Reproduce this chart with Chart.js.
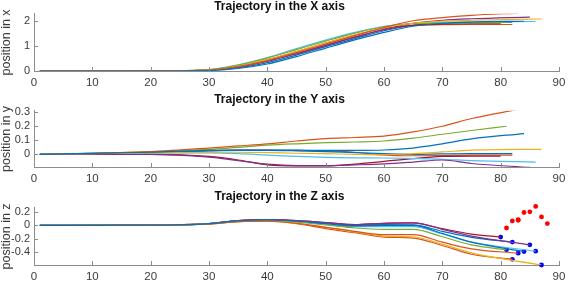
<!DOCTYPE html>
<html lang="en">
<head>
<meta charset="UTF-8">
<title>Trajectory</title>
<script src="https://cdn.jsdelivr.net/npm/chart.js"></script>
<style>
  body { margin: 0; background: #fff; }
  #wrap { position: relative; width: 572px; height: 290px; }
  canvas { position: absolute; left: 0; }
</style>
</head>
<body>
<div id="wrap">
  <canvas id="chartX" width="572" height="93" style="top:0"></canvas>
  <canvas id="chartY" width="572" height="97" style="top:93px"></canvas>
  <canvas id="chartZ" width="572" height="100" style="top:190px"></canvas>
</div>

<script>
// MATLAB default colour order, one per trajectory
const seriesColors = ['#0072BD', '#D95319', '#EDB120', '#7E2F8E', '#77AC30', '#4DBEEE', '#A2142F', '#0072BD', '#D95319'];
// last sample of each trajectory
const endTimes = [84, 83, 87, 85, 81, 86, 80, 82, 82];
// sample times shared by all trajectories (the end time is appended per series)
const sampleTimes = [1, 20, 30, 35, 40, 45, 50, 55, 60, 65, 70, 75];

const xTickValues = [0, 10, 20, 30, 40, 50, 60, 70, 80, 90];
const yTicksX = [0, 1, 2];
const yTicksY = [0, 0.1, 0.2, 0.3];
const yTicksZ = [-0.4, -0.2, 0, 0.2];

// position in x, one row per trajectory
const posX = [
  [0, 0, 0.02, 0.1, 0.28, 0.58, 0.92, 1.25, 1.55, 1.8, 1.92, 1.97, 2.0],
  [0, 0.005, 0.04, 0.18, 0.42, 0.74, 1.08, 1.42, 1.75, 2.02, 2.15, 2.24, 2.33],
  [0, 0.005, 0.05, 0.2, 0.46, 0.78, 1.12, 1.45, 1.74, 1.92, 2.0, 2.04, 2.09],
  [0, 0.005, 0.04, 0.17, 0.4, 0.7, 1.03, 1.36, 1.68, 1.92, 2.04, 2.1, 2.17],
  [0, 0.005, 0.06, 0.24, 0.52, 0.86, 1.2, 1.52, 1.78, 1.9, 1.93, 1.94, 1.95],
  [0, 0.005, 0.06, 0.25, 0.54, 0.9, 1.24, 1.55, 1.8, 1.92, 1.96, 1.98, 1.99],
  [0, 0.005, 0.04, 0.17, 0.4, 0.7, 1.03, 1.36, 1.66, 1.84, 1.88, 1.9, 1.9],
  [0, 0.003, 0.03, 0.13, 0.34, 0.64, 0.98, 1.3, 1.62, 1.84, 1.92, 1.95, 1.96],
  [0, 0.005, 0.05, 0.2, 0.46, 0.78, 1.12, 1.44, 1.72, 1.84, 1.86, 1.87, 1.87]
];

// position in y
const posY = [
  [0, 0.015, 0.028, 0.03, 0.03, 0.03, 0.028, 0.028, 0.031, 0.045, 0.075, 0.11, 0.148],
  [0, 0.02, 0.045, 0.06, 0.075, 0.095, 0.112, 0.12, 0.13, 0.16, 0.2, 0.255, 0.32],
  [0, 0.01, 0.015, 0.015, 0.012, 0.008, 0.005, 0, -0.003, 0.005, 0.017, 0.03, 0.036],
  [0, 0, -0.02, -0.045, -0.07, -0.08, -0.08, -0.075, -0.068, -0.055, -0.04, -0.065, -0.093],
  [0, 0.018, 0.035, 0.05, 0.065, 0.075, 0.083, 0.088, 0.095, 0.115, 0.143, 0.17, 0.2],
  [0, 0.008, 0.01, 0.005, -0.005, -0.015, -0.022, -0.025, -0.026, -0.03, -0.035, -0.045, -0.055],
  [0, 0, -0.015, -0.04, -0.075, -0.083, -0.083, -0.07, -0.05, -0.03, -0.015, -0.012, -0.012],
  [0, 0.012, 0.025, 0.028, 0.028, 0.025, 0.02, 0.012, 0.005, 0, 0.003, 0.005, 0.005],
  [0, 0.012, 0.025, 0.03, 0.03, 0.028, 0.025, 0.015, -0.005, -0.01, -0.008, -0.005, -0.005]
];

// position in z
const posZ = [
  [0, 0.002, 0.025, 0.068, 0.08, 0.06, 0.025, -0.01, 0, 0, -0.12, -0.25, -0.39],
  [0, 0.002, 0.02, 0.055, 0.06, 0.03, -0.03, -0.09, -0.14, -0.14, -0.25, -0.35, -0.415],
  [0, 0.002, 0.02, 0.055, 0.065, 0.03, -0.03, -0.1, -0.16, -0.17, -0.28, -0.41, -0.59],
  [0, 0.002, 0.025, 0.07, 0.085, 0.07, 0.04, 0.01, 0.03, 0.035, -0.06, -0.16, -0.29],
  [0, 0.002, 0.022, 0.06, 0.07, 0.045, 0.005, -0.04, -0.06, -0.06, -0.17, -0.29, -0.365],
  [0, 0.002, 0.025, 0.065, 0.078, 0.055, 0.02, -0.02, -0.02, -0.02, -0.13, -0.25, -0.385],
  [0, 0.002, 0.025, 0.07, 0.085, 0.07, 0.04, 0.01, 0.03, 0.035, -0.05, -0.13, -0.175],
  [0, 0.002, 0.025, 0.068, 0.08, 0.06, 0.03, 0, 0.01, 0.005, -0.09, -0.18, -0.25],
  [0, 0.002, 0.02, 0.055, 0.06, 0.025, -0.05, -0.11, -0.175, -0.19, -0.3, -0.43, -0.505]
];

// red markers after the trajectories end
const redTimes = [81, 82, 83, 83, 84, 85, 86, 87, 88];
const redValues = [-0.04, 0.065, 0.085, 0.075, 0.19, 0.2, 0.28, 0.125, 0.025];

const axisColor = '#8c8c8c';
const textColor = '#3a3a3a';
const fontFamily = '"Liberation Sans", Arial, sans-serif';

// MATLAB style ticks pointing into the axes
const innerTicks = {
  id: 'innerTicks',
  afterDraw(chart) {
    const {ctx, chartArea: a, scales: {x, y}} = chart;
    ctx.save();
    ctx.strokeStyle = axisColor;
    ctx.lineWidth = 1;
    ctx.beginPath();
    x.ticks.forEach(t => {
      const px = Math.round(x.getPixelForValue(t.value)) + 0.5;
      ctx.moveTo(px, a.bottom);
      ctx.lineTo(px, a.bottom - 4);
    });
    y.ticks.forEach(t => {
      const py = Math.round(y.getPixelForValue(t.value)) + 0.5;
      ctx.moveTo(a.left, py);
      ctx.lineTo(a.left + 4, py);
    });
    ctx.stroke();
    ctx.restore();
  }
};

function trajectorySets(values) {
  return values.map((row, i) => {
    const times = sampleTimes.concat([endTimes[i]]);
    return {
      data: row.map((v, j) => ({x: times[j], y: v})),
      borderColor: seriesColors[i],
      borderWidth: 1.2,
      pointRadius: 0,
      cubicInterpolationMode: 'monotone',
      fill: false
    };
  });
}

function drawPanel(id, cfg) {
  return new Chart(document.getElementById(id), {
    type: 'line',
    data: {datasets: cfg.datasets},
    options: {
      responsive: false,
      animation: false,
      layout: {padding: {left: 0, right: 13, top: 0, bottom: 0}},
      plugins: {
        legend: {display: false},
        tooltip: {enabled: false},
        title: {
          display: true,
          text: cfg.title,
          color: '#111',
          font: {family: fontFamily, size: 12, weight: 'bold', lineHeight: 1.15},
          padding: cfg.titlePad
        }
      },
      scales: {
        x: {
          type: 'linear',
          min: 0,
          max: 90,
          grid: {display: false, drawTicks: false},
          border: {display: true, color: axisColor, width: 1},
          afterBuildTicks: s => { s.ticks = xTickValues.map(v => ({value: v})); },
          afterFit: s => { s.height = cfg.xHeight; },
          ticks: {
            color: textColor,
            padding: 5,
            maxRotation: 0,
            font: {family: fontFamily, size: 11.5},
            callback: v => String(v)
          }
        },
        y: {
          min: cfg.yMin,
          max: cfg.yMax,
          grid: {display: false, drawTicks: false},
          border: {display: true, color: axisColor, width: 1},
          afterBuildTicks: s => { s.ticks = cfg.yTicks.map(v => ({value: v})); },
          afterFit: s => { s.width = 34; },
          ticks: {
            color: textColor,
            padding: 4,
            font: {family: fontFamily, size: 11},
            callback: v => String(v)
          },
          title: {
            display: true,
            text: cfg.yTitle,
            color: textColor,
            font: {family: fontFamily, size: 12.5, lineHeight: 1.0},
            padding: {top: 0, bottom: 0}
          }
        }
      }
    },
    plugins: [innerTicks]
  });
}

window.onload = function () {
  drawPanel('chartX', {
    title: 'Trajectory in the X axis',
    titlePad: {top: 0, bottom: 0},
    yTitle: 'position in x',
    yMin: 0, yMax: 2.3, yTicks: yTicksX,
    xHeight: 22,
    datasets: trajectorySets(posX)
  });

  drawPanel('chartY', {
    title: 'Trajectory in the Y axis',
    titlePad: {top: 0, bottom: 4},
    yTitle: 'position in y',
    yMin: -0.09, yMax: 0.31, yTicks: yTicksY,
    xHeight: 23,
    datasets: trajectorySets(posY)
  });

  const zSets = trajectorySets(posZ);
  zSets.push({
    data: posZ.map((row, i) => ({x: endTimes[i], y: row[row.length - 1]})),
    showLine: false,
    pointRadius: 2.4,
    pointBackgroundColor: '#0000ff',
    pointBorderWidth: 0,
    clip: false
  });
  zSets.push({
    data: redTimes.map((t, i) => ({x: t, y: redValues[i]})),
    showLine: false,
    pointRadius: 2.4,
    pointBackgroundColor: '#ff0000',
    pointBorderWidth: 0,
    clip: false
  });

  drawPanel('chartZ', {
    title: 'Trajectory in the Z axis',
    titlePad: {top: 0, bottom: 4},
    yTitle: 'position in z',
    yMin: -0.59, yMax: 0.26, yTicks: yTicksZ,
    xHeight: 25,
    datasets: zSets
  });
};
</script>
</body>
</html>
